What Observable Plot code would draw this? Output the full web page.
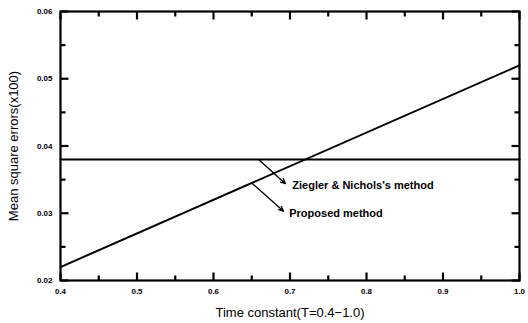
<!DOCTYPE html>
<html>
<head>
<meta charset="utf-8">
<script src="https://cdn.jsdelivr.net/npm/d3@7"></script>
<script src="https://cdn.jsdelivr.net/npm/@observablehq/plot@0.6"></script>
<style>
  html, body { margin: 0; padding: 0; background: #fff; }
  #chart { width: 528px; height: 323px; }
</style>
</head>
<body>
<div id="chart"></div>
<script>
// Data
const timeConstant = [0.4, 1.0];
const proposed = [0.022, 0.052];
const ziegler = [0.038, 0.038];
const xMajor = [0.4, 0.5, 0.6, 0.7, 0.8, 0.9, 1.0];
const xMinor = [0.45, 0.55, 0.65, 0.75, 0.85, 0.95];
const yMajor = [0.02, 0.03, 0.04, 0.05, 0.06];
const yMinor = [0.025, 0.035, 0.045, 0.055];
const labels = ["Ziegler & Nichols's method", "Proposed method"];
const arrowFromX = [0.659, 0.650];
const arrowFromY = [0.038, 0.0345];
const arrowToX = [0.694, 0.6915];
const arrowToY = [0.0344, 0.0303];
const labelX = [0.703, 0.699];
const labelY = [0.0341, 0.0300];

const series = [
  ...timeConstant.map((t, i) => ({t, v: proposed[i], s: "Proposed method"})),
  ...timeConstant.map((t, i) => ({t, v: ziegler[i], s: "Ziegler & Nichols's method"}))
];
const notes = labels.map((l, i) => ({
  l, x1: arrowFromX[i], y1: arrowFromY[i], x2: arrowToX[i], y2: arrowToY[i], tx: labelX[i], ty: labelY[i]
}));

const W = 528, H = 323, mL = 60, mR = 9, mT = 11, mB = 43;
const xDom = [0.4, 1.0], yDom = [0.02, 0.06];
const xPerPx = (xDom[1] - xDom[0]) / (W - mL - mR);
const yPerPx = (yDom[1] - yDom[0]) / (H - mT - mB);
const majLen = 8, minLen = 5;

const tickFont = {fontSize: 8, fontWeight: "bold", fontFamily: "Liberation Sans, Arial, sans-serif"};
const tickStyle = {stroke: "#000", strokeWidth: 2.2};

const chart = Plot.plot({
  width: W,
  height: H,
  marginLeft: mL,
  marginRight: mR,
  marginTop: mT,
  marginBottom: mB,
  style: {fontFamily: "Liberation Sans, Arial, sans-serif", background: "#fff", color: "#000"},
  x: {domain: xDom},
  y: {domain: yDom},
  marks: [
    // tick labels
    Plot.axisX(xMajor, {anchor: "bottom", tickSize: 0, tickPadding: 8, tickFormat: d => d.toFixed(1), label: "Time constant(T=0.4\u22121.0)", labelAnchor: "center", labelOffset: 36, ...tickFont}),
    Plot.axisY(yMajor, {anchor: "left", tickSize: 0, tickPadding: 8, tickFormat: d => d.toFixed(2), label: "Mean square errors(x100)", labelAnchor: "center", labelOffset: 52, ...tickFont}),
    Plot.frame({stroke: "#000", strokeWidth: 2.2}),
    // inward ticks on all four sides
    Plot.link(xMajor, {x1: d => d, x2: d => d, y1: yDom[0], y2: yDom[0] + majLen * yPerPx, ...tickStyle}),
    Plot.link(xMinor, {x1: d => d, x2: d => d, y1: yDom[0], y2: yDom[0] + minLen * yPerPx, ...tickStyle}),
    Plot.link(xMajor, {x1: d => d, x2: d => d, y1: yDom[1], y2: yDom[1] - majLen * yPerPx, ...tickStyle}),
    Plot.link(xMinor, {x1: d => d, x2: d => d, y1: yDom[1], y2: yDom[1] - minLen * yPerPx, ...tickStyle}),
    Plot.link(yMajor, {y1: d => d, y2: d => d, x1: xDom[0], x2: xDom[0] + majLen * xPerPx, ...tickStyle}),
    Plot.link(yMinor, {y1: d => d, y2: d => d, x1: xDom[0], x2: xDom[0] + minLen * xPerPx, ...tickStyle}),
    Plot.link(yMajor, {y1: d => d, y2: d => d, x1: xDom[1], x2: xDom[1] - majLen * xPerPx, ...tickStyle}),
    Plot.link(yMinor, {y1: d => d, y2: d => d, x1: xDom[1], x2: xDom[1] - minLen * xPerPx, ...tickStyle}),
    Plot.line(series, {x: "t", y: "v", z: "s", stroke: "#000", strokeWidth: 2}),
    Plot.arrow(notes, {x1: "x1", y1: "y1", x2: "x2", y2: "y2", stroke: "#000", strokeWidth: 1.3, headLength: 6, headAngle: 50}),
    Plot.text(notes, {x: "tx", y: "ty", text: "l", textAnchor: "start", fontSize: 11, fontWeight: "bold", fill: "#000"})
  ]
});

// style axis labels to match the reference (no arrows, regular weight)
const fixLabel = (sel, txt) => chart.querySelectorAll(sel).forEach(t => {
  t.textContent = txt;
  t.setAttribute("font-size", "13");
  t.setAttribute("font-weight", "normal");
});
fixLabel("[aria-label='x-axis label'] text", "Time constant(T=0.4\u22121.0)");
fixLabel("[aria-label='y-axis label'] text", "Mean square errors(x100)");
document.getElementById("chart").appendChild(chart);
</script>
</body>
</html>
